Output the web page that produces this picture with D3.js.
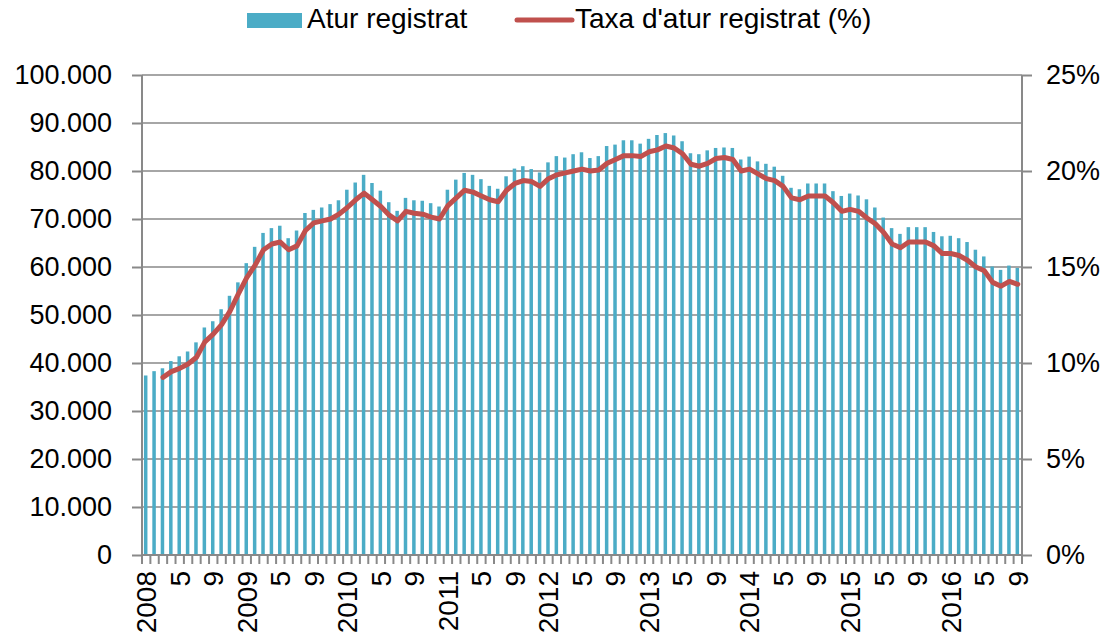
<!DOCTYPE html>
<html lang="ca">
    <head>
        <meta charset="utf-8">
        <title>Atur registrat</title>
        <script type="text/javascript" src="https://cdn.jsdelivr.net/npm/d3@7"></script>
        <style>
            body { margin: 0; background: #fff; }
            text { font-family: "Liberation Sans", Arial, sans-serif; fill: #000; }
        </style>
    </head>
    <body>
        <div id="chart"></div>
        <script type="text/javascript">
            //Width and height
            var w = 1115;
            var h = 641;

            // years shown on the axis, monthly data Jan 2008 - Sep 2016
            var years = [2008, 2009, 2010, 2011, 2012, 2013, 2014, 2015, 2016];
            var lastMonth = 9;

            // registered unemployment (people), one value per month
            var atur = [
                37400, 38300, 38900, 40400, 41400, 42400, 44300, 47400, 48700, 51200, 54000, 56800,
                60800, 64200, 67100, 68100, 68600, 66000, 67600, 71250, 71900, 72400, 73100, 73900,
                76100, 77600, 79200, 77500, 75900, 73500, 71700, 74400, 73900, 73800, 73300, 72600,
                76100, 78200, 79600, 79200, 78300, 76900, 76300, 78900, 80500, 81000, 80400, 79700,
                81800, 83100, 82800, 83500, 83900, 82700, 83100, 85200, 85500, 86400, 86400, 85700,
                86700, 87500, 87900, 87400, 86200, 83700, 83500, 84300, 84800, 84900, 84800, 82400,
                83000, 82000, 81500, 80900, 79000, 76500, 76200, 77400, 77400, 77400, 75800, 74800,
                75300, 74900, 74100, 72400, 70300, 68100, 66900, 68300, 68300, 68300, 67300, 66400,
                66500, 66000, 65200, 63600, 62200, 60100, 59400, 60300, 59800
            ];

            // registered unemployment rate (%), starts in March 2008
            var taxa = [
                null, null, 9.25, 9.55, 9.72, 9.95, 10.3, 11.1, 11.5, 12.0, 12.7, 13.6,
                14.45, 15.1, 15.9, 16.2, 16.3, 15.9, 16.1, 16.9, 17.3, 17.4, 17.5, 17.75,
                18.1, 18.5, 18.85, 18.5, 18.15, 17.7, 17.4, 17.9, 17.8, 17.75, 17.6, 17.5,
                18.2, 18.6, 19.0, 18.9, 18.7, 18.5, 18.4, 19.0, 19.35, 19.5, 19.45, 19.2,
                19.6, 19.8, 19.9, 20.0, 20.1, 20.0, 20.05, 20.4, 20.6, 20.8, 20.8, 20.75,
                21.0, 21.1, 21.3, 21.2, 20.9, 20.35, 20.25, 20.4, 20.65, 20.7, 20.6, 20.0,
                20.1, 19.85, 19.6, 19.5, 19.2, 18.6, 18.5, 18.7, 18.7, 18.7, 18.35, 17.9,
                18.0, 17.9, 17.55, 17.25, 16.8, 16.2, 16.0, 16.3, 16.3, 16.3, 16.1, 15.7,
                15.7, 15.6, 15.35, 15.0, 14.8, 14.2, 14.0, 14.25, 14.1
            ];

            var leftTicks = [0, 10000, 20000, 30000, 40000, 50000, 60000, 70000, 80000, 90000, 100000];
            var rightTicks = [0, 5, 10, 15, 20, 25];
            var seriesNames = ["Atur registrat", "Taxa d'atur registrat (%)"];

            // month keys like "2008-1"
            var months = [];
            years.forEach(function(y) {
                for (var m = 1; m <= 12; m++) {
                    if (y === years[years.length - 1] && m > lastMonth) break;
                    months.push(y + "-" + m);
                }
            });

            var blue = "#4bacc6";
            var red = "#c0504d";
            var grid = "#a6a6a6";
            var axisCol = "#898989";

            // plot area (don't call it "top", that's window.top)
            var pL = 142, pR = 1022, pT = 75, pB = 555;

            var svg = d3.select("#chart").append("svg").attr("width", w).attr("height", h);

            var x = d3.scaleBand().domain(months).range([pL, pR]).padding(0);
            var yL = d3.scaleLinear().domain([0, 100000]).range([pB, pT]);
            var yR = d3.scaleLinear().domain([0, 25]).range([pB, pT]);

            var ca = d3.formatLocale({decimal: ",", thousands: ".", grouping: [3], currency: ["", " €"]});
            var fmt = ca.format(",.0f");

            // gridlines
            svg.append("g").selectAll("line")
                .data(leftTicks.slice(1))
                .enter()
                .append("line")
                .attr("x1", pL)
                .attr("x2", pR)
                .attr("y1", function(d) { return yL(d); })
                .attr("y2", function(d) { return yL(d); })
                .attr("stroke", grid)
                .attr("stroke-width", 2);

            // bars
            var barW = 3.5;
            svg.append("g").selectAll("rect")
                .data(atur)
                .enter()
                .append("rect")
                .attr("x", function(d, i) {
                    return x(months[i]) + x.bandwidth() / 2 - barW / 2 - 0.5;
                })
                .attr("y", function(d) { return yL(d); })
                .attr("width", barW)
                .attr("height", function(d) { return pB - yL(d); })
                .attr("fill", blue);

            // left axis
            var axL = svg.append("g")
                .attr("transform", "translate(" + pL + ",0)")
                .call(d3.axisLeft(yL).tickValues(leftTicks).tickSize(10).tickPadding(20).tickFormat(fmt));

            // right axis
            var axR = svg.append("g")
                .attr("transform", "translate(" + pR + ",0)")
                .call(d3.axisRight(yR).tickValues(rightTicks).tickSize(10).tickPadding(14)
                    .tickFormat(function(d) { return d + "%"; }));

            [axL, axR].forEach(function(ax) {
                ax.select(".domain").attr("stroke", axisCol).attr("stroke-width", 2)
                    .attr("d", "M0," + pT + "V" + pB);
                ax.selectAll(".tick line").attr("stroke", axisCol).attr("stroke-width", 2);
                ax.selectAll(".tick text")
                    .attr("font-family", "Liberation Sans, Arial, sans-serif")
                    .attr("font-size", "27px")
                    .attr("fill", "#000");
            });

            // bottom axis: a tick at every month boundary
            var axB = svg.append("g");
            axB.append("line")
                .attr("x1", pL).attr("x2", pR)
                .attr("y1", pB).attr("y2", pB)
                .attr("stroke", axisCol).attr("stroke-width", 2);
            axB.selectAll("line.tk")
                .data(months.concat(["end"]))
                .enter()
                .append("line")
                .attr("class", "tk")
                .attr("x1", function(d, i) { return pL + i * x.bandwidth(); })
                .attr("x2", function(d, i) { return pL + i * x.bandwidth(); })
                .attr("y1", pB)
                .attr("y2", pB + 9)
                .attr("stroke", axisCol)
                .attr("stroke-width", 2);

            // month labels every four months: year, 5, 9
            axB.selectAll("text")
                .data(months.filter(function(d, i) { return i % 4 === 0; }))
                .enter()
                .append("text")
                .text(function(d) {
                    var p = d.split("-");
                    return p[1] === "1" ? p[0] : p[1];
                })
                .attr("transform", function(d) {
                    return "translate(" + (x(d) + x.bandwidth() / 2) + "," + (pB + 16) + ") rotate(-90)";
                })
                .attr("text-anchor", "end")
                .attr("dy", "0.35em")
                .attr("font-size", "28px");

            // rate line
            var line = d3.line()
                .defined(function(d) { return d !== null; })
                .x(function(d, i) { return x(months[i]) + x.bandwidth() / 2; })
                .y(function(d) { return yR(d); });

            svg.append("path")
                .datum(taxa)
                .attr("d", line)
                .attr("fill", "none")
                .attr("stroke", red)
                .attr("stroke-width", 5)
                .attr("stroke-linejoin", "round")
                .attr("stroke-linecap", "round");

            // legend
            var lg = svg.append("g");
            lg.append("rect")
                .attr("x", 247).attr("y", 13)
                .attr("width", 55).attr("height", 15)
                .attr("fill", blue);
            lg.append("text")
                .text(seriesNames[0])
                .attr("x", 307).attr("y", 28)
                .attr("font-size", "28px");
            lg.append("line")
                .attr("x1", 517).attr("x2", 572)
                .attr("y1", 20).attr("y2", 20)
                .attr("stroke", red)
                .attr("stroke-width", 5)
                .attr("stroke-linecap", "round");
            lg.append("text")
                .text(seriesNames[1])
                .attr("x", 575).attr("y", 28)
                .attr("font-size", "28px");
        </script>
    </body>
</html>
